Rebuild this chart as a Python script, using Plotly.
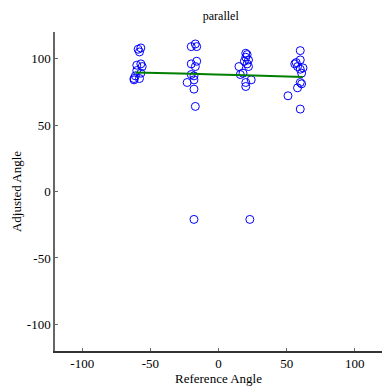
import plotly.graph_objects as go

# Scatter data (reference angle, adjusted angle)
ref_angle = [
    -59, -57, -58, -57, -60, -56, -60, -57, -61, -62, -62, -58,
    -20, -17, -16, -20, -17, -16, -20, -18, -23, -18, -18, -17, -18,
    20, 21, 20, 19, 22, 15, 22, 21, 18, 16, 24, 20, 20, 23,
    60, 60, 57, 56, 58, 62, 60, 61, 60, 61, 58, 51, 60,
]
adj_angle = [
    107, 108, 105, 96, 95, 94, 91, 89, 87, 85, 84, 85,
    109, 111, 109, 96, 94, 98, 88, 87, 82, 84, 77, 64, -21,
    104, 103, 101, 98, 99, 94, 94, 96, 89, 88, 84, 82, 79, -21,
    106, 99, 97, 96, 94, 93, 92, 89, 82, 81, 78, 72, 62,
]

# Mean trend line
trend_x = [-61, -20, 20, 62]
trend_y = [89.5, 88.6, 87.4, 86.1]

x_ticks = [-100, -50, 0, 50, 100]
x_labels = ["-100", "-50", "0", "50", "100"]
y_ticks = [-100, -50, 0, 50, 100]
y_labels = ["-100", "-50", "0", "50", "100"]

SERIF = "Liberation Serif"

fig = go.Figure()
fig.add_trace(go.Scatter(
    x=ref_angle, y=adj_angle, mode="markers",
    marker=dict(symbol="circle-open", size=8, color="#0000ff",
                line=dict(width=1, color="#0000ff")),
    showlegend=False,
))
fig.add_trace(go.Scatter(
    x=trend_x, y=trend_y, mode="lines",
    line=dict(color="#007f00", width=2, shape="spline"),
    showlegend=False,
))

font = dict(family=SERIF, size=13, color="#000")
fig.update_layout(
    width=382, height=387,
    margin=dict(l=55, r=0, t=32, b=36),
    paper_bgcolor="white", plot_bgcolor="white",
    font=font,
    title=dict(text="parallel", x=0.578, xanchor="center", y=0.958, yanchor="middle",
               font=dict(family=SERIF, size=12, color="#000")),
    xaxis=dict(range=[-120, 120], tickvals=x_ticks, ticktext=x_labels,
               ticks="inside", ticklen=3,
               tickcolor="#666", showline=True, linecolor="#333", linewidth=1.5,
               showgrid=False, zeroline=False, mirror=False,
               tickfont=dict(family=SERIF, size=13, color="#000"),
               title=dict(text="Reference Angle", standoff=0,
                          font=dict(family=SERIF, size=13, color="#000"))),
    yaxis=dict(range=[-120, 120], tickvals=y_ticks, ticktext=y_labels,
               ticks="inside", ticklen=3,
               tickcolor="#666", showline=True, linecolor="#666", linewidth=1.5,
               showgrid=False, zeroline=False, mirror=False,
               tickfont=dict(family=SERIF, size=13, color="#000"),
               title=dict(text="Adjusted Angle", standoff=2,
                          font=dict(family=SERIF, size=13, color="#000"))),
)
fig.write_html("out.html", config={"displayModeBar": False},
               post_script="document.body.style.margin='0';document.body.style.padding='0';")
